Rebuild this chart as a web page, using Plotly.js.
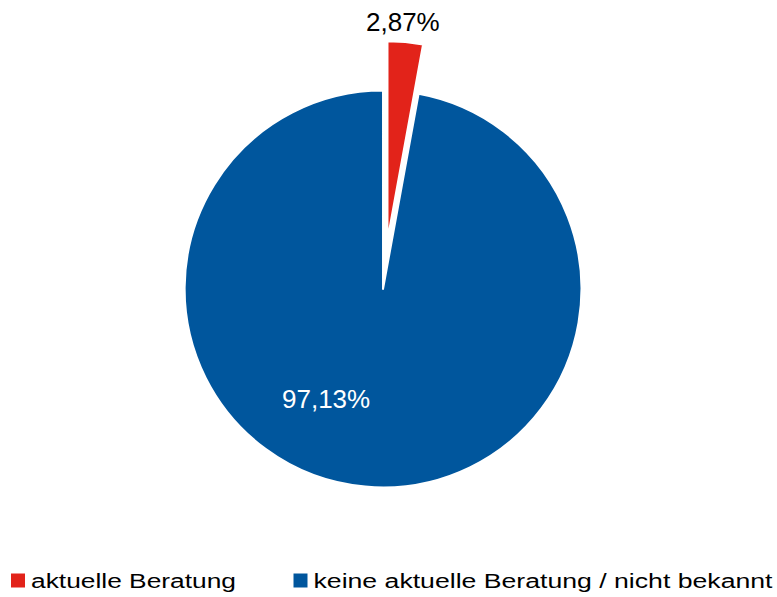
<!DOCTYPE html>
<html>
<head>
<meta charset="utf-8">
<script src="https://cdn.plot.ly/plotly-3.0.1.min.js"></script>
<style>
html,body{margin:0;padding:0;background:#fff;}
#chart{width:777px;height:597px;}
</style>
</head>
<body>
<div id="chart"></div>
<script>
const categories = ['aktuelle Beratung', 'keine aktuelle Beratung / nicht bekannt'];
const values = [2.87, 97.13];
const sliceColors = ['#E2231A', '#00569D'];
const pulls = [0.25, 0];

function fmt(v) { return v.toFixed(2).replace('.', ',') + '%'; }

const trace = {
  type: 'pie',
  labels: categories,
  values: values,
  sort: false,
  direction: 'clockwise',
  rotation: 0,
  pull: pulls,
  textinfo: 'none',
  hoverinfo: 'label+percent',
  marker: { colors: sliceColors, line: { color: '#ffffff', width: 2 } },
  domain: { x: [0.1738, 0.8121], y: [0.1003, 0.9315] }
};

const layout = {
  width: 777,
  height: 597,
  margin: { l: 0, r: 0, t: 0, b: 0 },
  paper_bgcolor: '#ffffff',
  showlegend: true,
  legend: {
    orientation: 'h',
    x: 0, xanchor: 'left',
    y: 0, yanchor: 'bottom',
    entrywidth: 237.5,
    entrywidthmode: 'pixels',
    font: { family: 'Liberation Sans, Arial, sans-serif', size: 20, color: '#000000' },
    bgcolor: 'rgba(0,0,0,0)'
  },
  annotations: [
    { text: fmt(values[0]), x: 0.5187, y: 0.963, xref: 'paper', yref: 'paper', showarrow: false,
      xanchor: 'center', yanchor: 'middle',
      font: { family: 'Liberation Sans, Arial, sans-serif', size: 26, color: '#000000' } },
    { text: fmt(values[1]), x: 0.4196, y: 0.3317, xref: 'paper', yref: 'paper', showarrow: false,
      xanchor: 'center', yanchor: 'middle',
      font: { family: 'Liberation Sans, Arial, sans-serif', size: 26, color: '#ffffff' } }
  ]
};

// legend text widths in the reference are wider than the plain font
const legendTextWidths = [205, 459];

Plotly.newPlot('chart', [trace], layout, { displayModeBar: false, staticPlot: true }).then(function (gd) {
  const legend = gd.querySelector('g.legend');
  if (!legend) return;
  legend.querySelectorAll('[clip-path]').forEach(function (el) { el.removeAttribute('clip-path'); });
  legend.querySelectorAll('text.legendtext').forEach(function (t, i) {
    t.setAttribute('x', 33);
    t.setAttribute('textLength', legendTextWidths[i]);
    t.setAttribute('lengthAdjust', 'spacingAndGlyphs');
  });
  legend.querySelectorAll('path.legendpie').forEach(function (p) {
    p.setAttribute('d', 'M7,7H-7V-7H7Z');
    p.style.strokeWidth = '0px';
  });
  const tr = legend.getAttribute('transform') || '';
  const m = tr.match(/translate\(\s*([-\d.]+)[ ,]+([-\d.]+)\s*\)/);
  if (m) legend.setAttribute('transform', 'translate(' + (parseFloat(m[1]) - 2) + ',' + (parseFloat(m[2]) + 3) + ')');
});
</script>
</body>
</html>
